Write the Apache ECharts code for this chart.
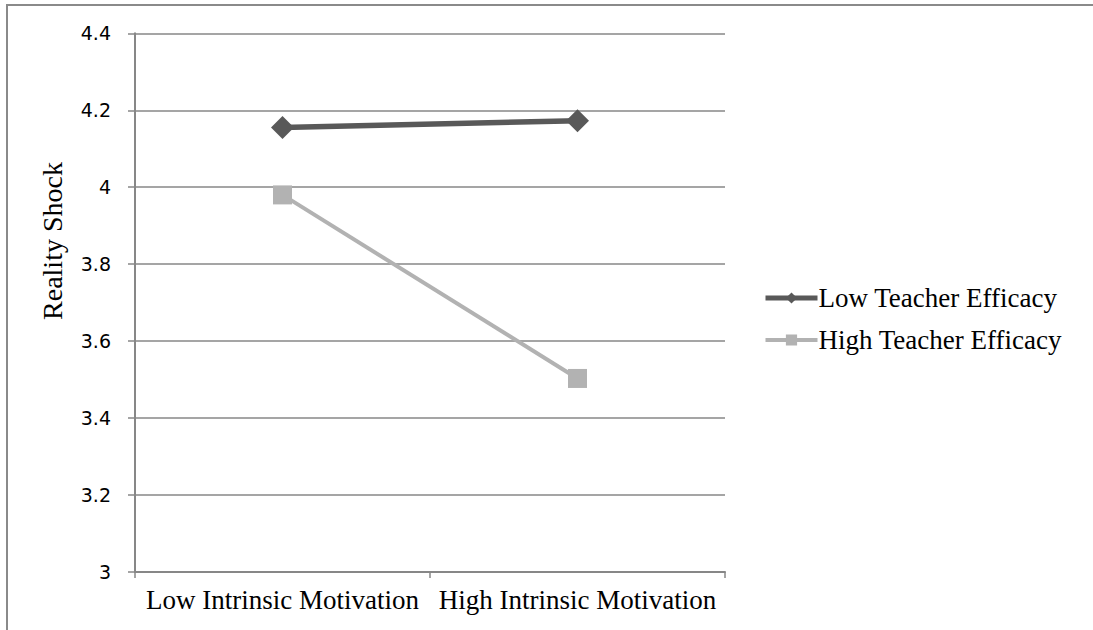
<!DOCTYPE html>
<html>
<head>
<meta charset="utf-8">
<script src="https://cdn.jsdelivr.net/npm/echarts@6/dist/echarts.min.js"></script>
<style>
html,body{margin:0;padding:0;background:#fff;}
#chart{width:1093px;height:630px;}
</style>
</head>
<body>
<div id="chart"></div>
<script>
const categories = ['Low Intrinsic Motivation', 'High Intrinsic Motivation'];
const lowTeacherEfficacy = [4.155, 4.173];
const highTeacherEfficacy = [3.98, 3.503];
const yTicks = [3, 3.2, 3.4, 3.6, 3.8, 4, 4.2, 4.4];
const yAxisTitle = 'Reality Shock';
const seriesNames = ['Low Teacher Efficacy', 'High Teacher Efficacy'];

const chart = echarts.init(document.getElementById('chart'), null, {renderer: 'svg'});
const gridColor = '#878787';
chart.setOption({
  animation: false,
  backgroundColor: '#fff',
  graphic: [
    {type: 'rect', shape: {x: 7, y: 5, width: 1200, height: 700},
     style: {fill: 'none', stroke: '#8a8a8a', lineWidth: 2}, silent: true},
    {type: 'text', x: 52, y: 241, rotation: Math.PI / 2,
     style: {text: yAxisTitle, font: '28px "Liberation Serif"', fill: '#000',
             align: 'center', verticalAlign: 'middle'}}
  ],
  grid: {left: 135, top: 33.3, right: 368, bottom: 58},
  legend: {
    orient: 'vertical', left: 763, top: 283, padding: 0,
    itemWidth: 52, itemHeight: 14, itemGap: 12,
    textStyle: {fontFamily: 'Liberation Serif', fontSize: 27, color: '#000', lineHeight: 30, padding: [0,0,0,-4]},
    data: [
      {name: seriesNames[0], lineStyle: {width: 5}},
      {name: seriesNames[1], lineStyle: {width: 4}}
    ]
  },
  xAxis: {
    type: 'category', data: categories, boundaryGap: true,
    axisLine: {lineStyle: {color: gridColor, width: 2}},
    axisTick: {show: true, length: 6, lineStyle: {color: gridColor, width: 1.5}},
    axisLabel: {fontFamily: 'Liberation Serif', fontSize: 27, color: '#000', margin: 14, interval: 0}
  },
  yAxis: {
    type: 'value', min: 3, max: 4.4, interval: 0.2,
    axisLine: {show: true, lineStyle: {color: gridColor, width: 2}},
    axisTick: {show: true, length: 7, lineStyle: {color: gridColor, width: 1.5}},
    splitLine: {show: true, lineStyle: {color: gridColor, width: 1.5}},
    axisLabel: {fontFamily: 'DejaVu Sans', fontSize: 19, color: '#000', margin: 24,
      formatter: v => { const t = yTicks.find(x => Math.abs(x - v) < 1e-6); return t === undefined ? '' : String(t); }}
  },
  series: [
    {name: seriesNames[0], type: 'line', data: lowTeacherEfficacy,
     symbol: 'diamond', symbolSize: 23,
     lineStyle: {color: '#595959', width: 5.5},
     itemStyle: {color: '#595959'}},
    {name: seriesNames[1], type: 'line', data: highTeacherEfficacy,
     symbol: 'rect', symbolSize: 19,
     lineStyle: {color: '#b2b2b2', width: 4},
     itemStyle: {color: '#b2b2b2'}}
  ]
});
</script>
</body>
</html>
